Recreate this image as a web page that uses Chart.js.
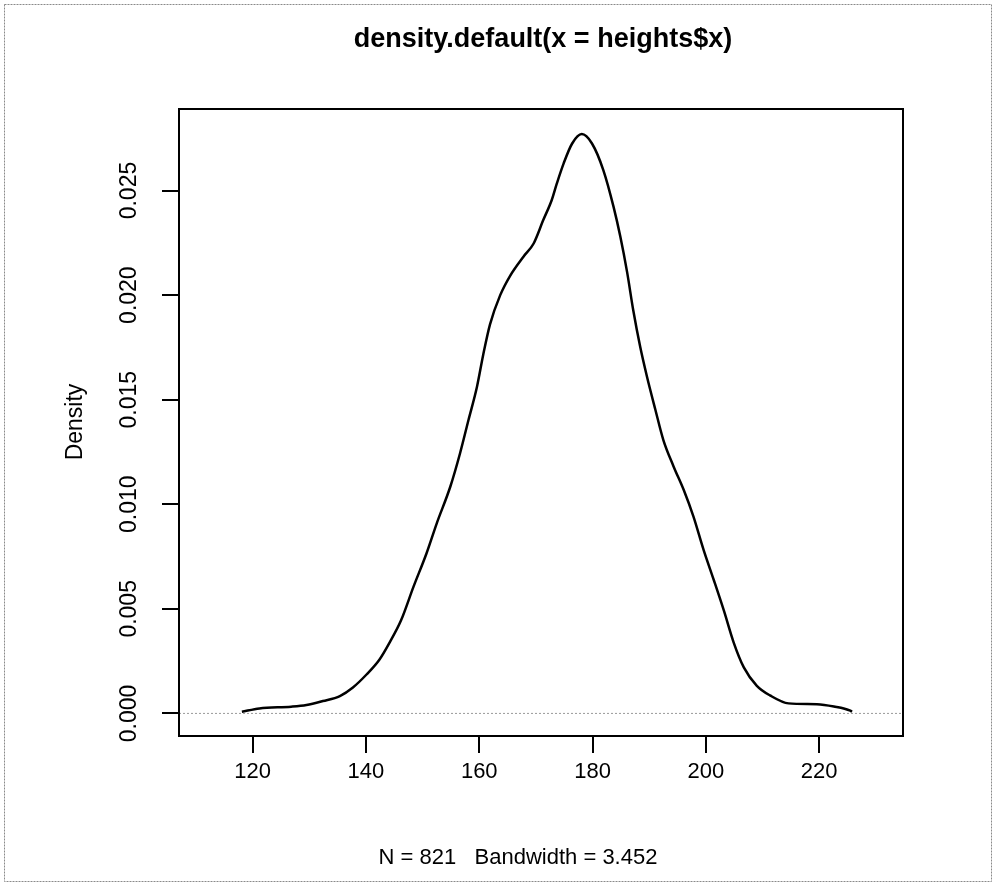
<!DOCTYPE html>
<html>
<head>
<meta charset="utf-8">
<script src="https://cdn.jsdelivr.net/npm/chart.js@4.4.1/dist/chart.umd.min.js"></script>
<style>
  html, body { margin: 0; padding: 0; background: #ffffff; }
  #wrap { width: 995px; height: 886px; position: relative; }
</style>
</head>
<body>
<div id="wrap"><canvas id="densityChart" width="995" height="886"></canvas></div>
<script>
// values
const heights = [118.1, 121.2, 126.8, 129.5, 132.4, 135.4, 137.7, 140.1, 142.4, 144.2, 146.2,
    148.4, 150.7, 152.5, 154.9, 156.6, 158.1, 159.6, 160.7, 161.9, 163.7, 165.5, 167.8,
    169.6, 171.3, 172.8, 173.7, 174.9, 176.4, 178.1, 179.9, 181.9, 183.7, 184.9, 186.1,
    187.2, 188.4, 189.6, 191.1, 192.5, 194.3, 196.1, 197.8, 199.6, 201.4, 203.2, 204.9,
    206.7, 209.0, 211.4, 214.6, 219.6, 222.6, 225.5, 225.8];
const density = [0.00008, 0.00024, 0.00032, 0.00040, 0.00059, 0.00083, 0.00124, 0.00186, 0.00258, 0.00340, 0.00445,
    0.00606, 0.00766, 0.00909, 0.01085, 0.01243, 0.01403, 0.01562, 0.01715, 0.01860, 0.02000, 0.02095, 0.02184,
    0.02247, 0.02359, 0.02455, 0.02534, 0.02630, 0.02725, 0.02770, 0.02725, 0.02598, 0.02423, 0.02280, 0.02110,
    0.01925, 0.01754, 0.01611, 0.01451, 0.01307, 0.01181, 0.01068, 0.00942, 0.00782, 0.00638, 0.00490, 0.00340,
    0.00220, 0.00132, 0.00085, 0.00048, 0.00044, 0.00033, 0.00013, 0.00008];
const xTicks = [120, 140, 160, 180, 200, 220];
const yTicks = [0, 0.005, 0.010, 0.015, 0.020, 0.025];
const xRange = [107, 234.8];
const yRange = [-0.00108, 0.0289];

const titleText = 'density.default(x = heights$x)';
const subText = 'N = 821   Bandwidth = 3.452';
const yLabel = 'Density';

const points = heights.map((h, i) => ({ x: h, y: density[i] }));
const zeroLine = [{ x: xRange[0], y: 0 }, { x: xRange[1], y: 0 }];

const FONT = '"Liberation Sans", Arial, sans-serif';

// box, frame and texts in the R style
const rStyle = {
    id: 'rStyle',
    beforeDraw(chart) {
        const ctx = chart.ctx;
        ctx.save();
        ctx.fillStyle = '#ffffff';
        ctx.fillRect(0, 0, chart.width, chart.height);
        ctx.strokeStyle = '#8a8a8a';
        ctx.lineWidth = 1;
        ctx.setLineDash([2, 1]);
        ctx.strokeRect(4.5, 4.5, 987, 877);
        ctx.restore();
    },
    afterDraw(chart) {
        const ctx = chart.ctx;
        const a = chart.chartArea;
        ctx.save();
        ctx.strokeStyle = '#000000';
        ctx.lineWidth = 2;
        ctx.strokeRect(a.left, a.top, a.right - a.left, a.bottom - a.top);

        ctx.fillStyle = '#000000';
        ctx.textAlign = 'center';
        ctx.textBaseline = 'middle';
        ctx.font = 'bold 27px ' + FONT;
        ctx.fillText(titleText, 543, 40);
        ctx.font = '22px ' + FONT;
        ctx.fillText(subText, 518, 858);

        ctx.translate(76, 422);
        ctx.rotate(-Math.PI / 2);
        ctx.font = '23px ' + FONT;
        ctx.fillText(yLabel, 0, 0);
        ctx.restore();
    }
};

const ctx = document.getElementById('densityChart').getContext('2d');

new Chart(ctx, {
    type: 'line',
    data: {
        datasets: [{
            data: zeroLine,
            borderColor: '#9a9a9a',
            borderWidth: 1,
            borderDash: [2, 2],
            pointRadius: 0
        }, {
            data: points,
            borderColor: '#000000',
            borderWidth: 2.5,
            pointRadius: 0,
            cubicInterpolationMode: 'monotone'
        }]
    },
    options: {
        responsive: false,
        animation: false,
        events: [],
        layout: {
            padding: { left: 0, top: 109, right: 92, bottom: 90 }
        },
        plugins: {
            legend: { display: false },
            tooltip: { enabled: false },
            title: { display: false }
        },
        scales: {
            x: {
                type: 'linear',
                min: xRange[0],
                max: xRange[1],
                afterBuildTicks: scale => { scale.ticks = xTicks.map(v => ({ value: v })); },
                afterFit: scale => { scale.height = 60; },
                border: { display: false },
                grid: {
                    drawOnChartArea: false,
                    drawTicks: true,
                    tickLength: 17,
                    color: '#000000',
                    lineWidth: 2
                },
                ticks: {
                    color: '#000000',
                    padding: 6,
                    maxRotation: 0,
                    font: { family: FONT, size: 22 },
                    callback: v => String(v)
                }
            },
            y: {
                type: 'linear',
                min: yRange[0],
                max: yRange[1],
                afterBuildTicks: scale => { scale.ticks = yTicks.map(v => ({ value: v })); },
                afterFit: scale => { scale.width = 179; },
                border: { display: false },
                grid: {
                    drawOnChartArea: false,
                    drawTicks: true,
                    tickLength: 17,
                    color: '#000000',
                    lineWidth: 2
                },
                ticks: {
                    color: '#000000',
                    padding: 4,
                    minRotation: 90,
                    maxRotation: 90,
                    crossAlign: 'center',
                    font: { family: FONT, size: 23 },
                    callback: v => v.toFixed(3)
                }
            }
        }
    },
    plugins: [rStyle]
});
</script>
</body>
</html>
